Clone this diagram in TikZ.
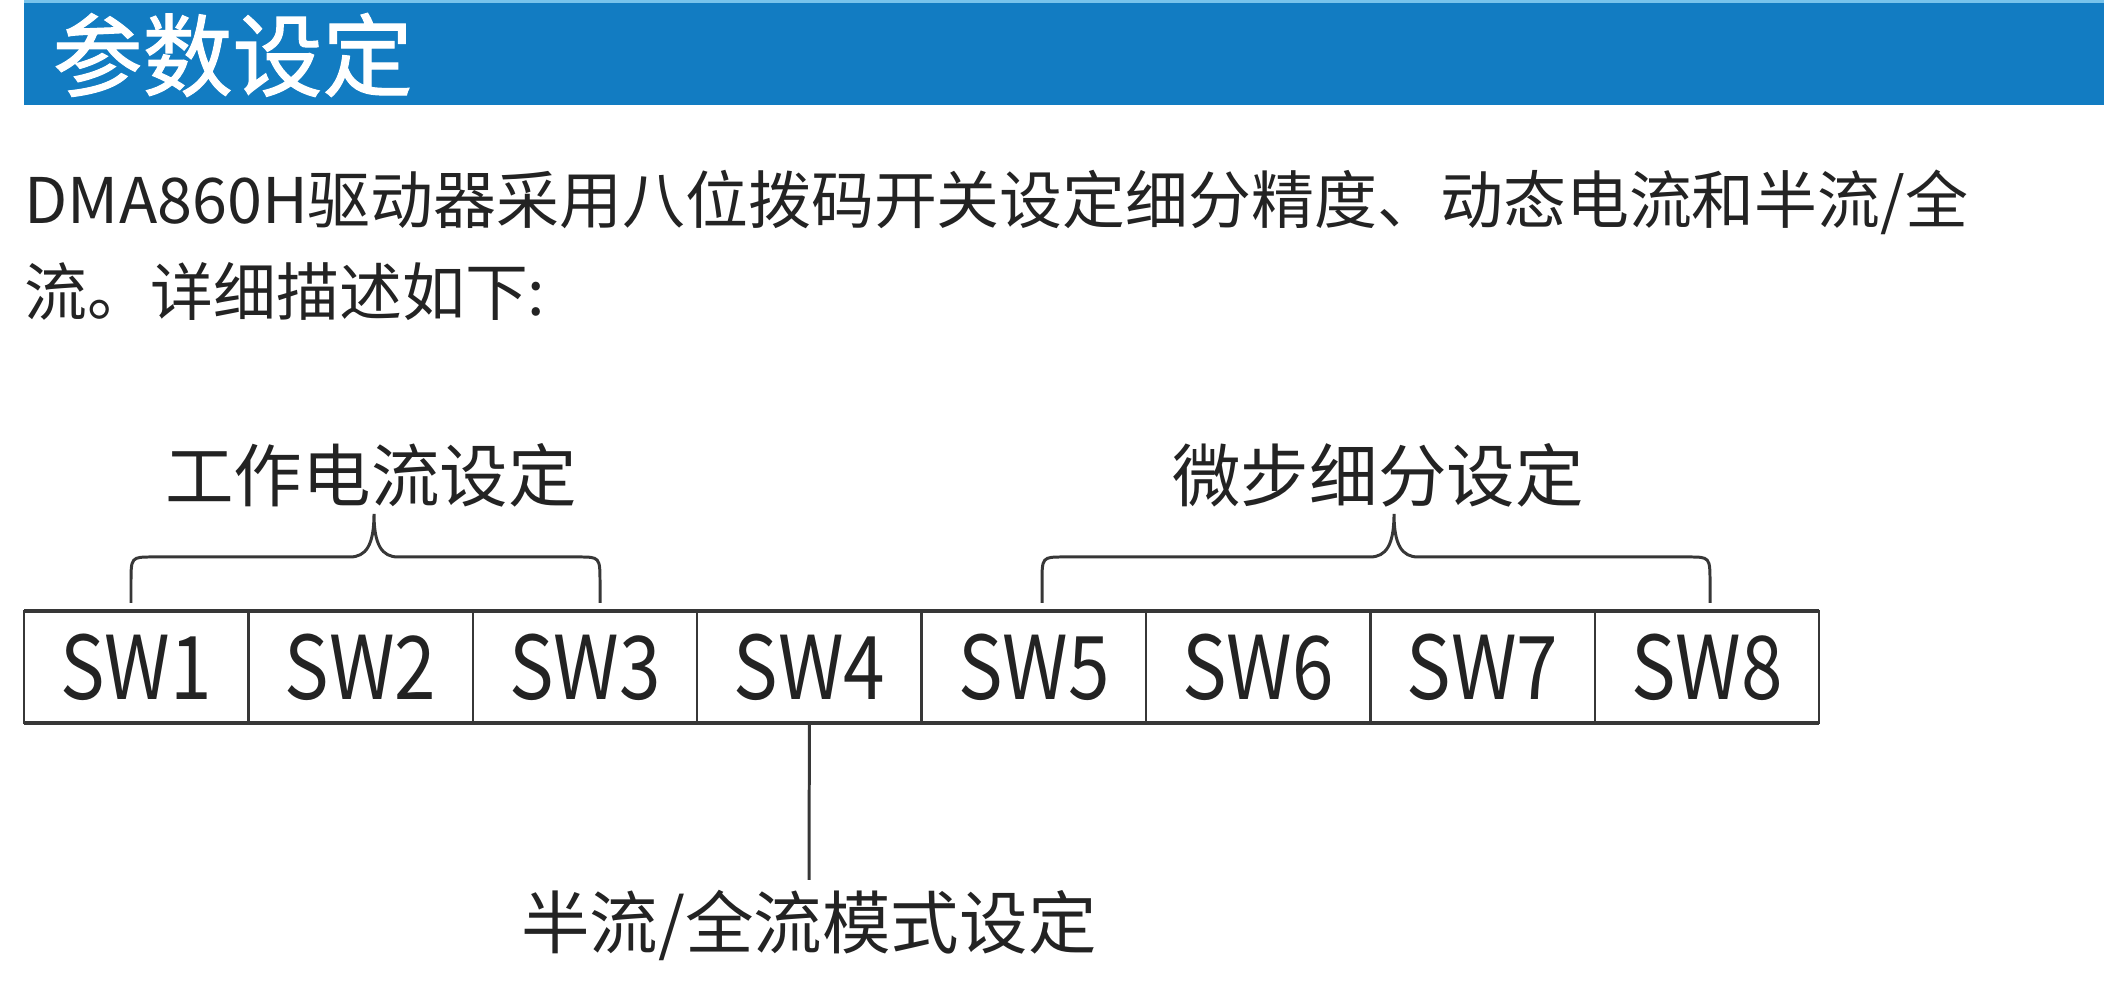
\documentclass[tikz,border=0pt]{standalone}
\usepackage{fontspec}
\setmainfont{Noto Sans CJK SC}
\newfontfamily\swfont[FakeStretch=0.85]{Noto Sans CJK SC}
\newfontfamily\titlefont[FakeBold=1.2]{Noto Sans CJK SC}
\usepackage{tikz}
\usetikzlibrary{positioning}

\definecolor{barblue}{RGB}{18,124,194}
\definecolor{barlight}{RGB}{120,195,235}
\definecolor{textgray}{RGB}{35,35,35}
\definecolor{linegray}{RGB}{55,55,55}

% curly bracket over a group of switches: left leg, right leg, tip
\newcommand{\groupbrace}[3]{%
  \draw[bracket] (#1,3.97) -- (#1,4.17) .. controls (#1,4.43) .. ({#1+0.22},4.43)
    -- ({#3-0.24},4.43) .. controls ({#3-0.08},4.43) and (#3,4.55) .. (#3,4.86)
    .. controls (#3,4.55) and ({#3+0.08},4.43) .. ({#3+0.24},4.43)
    -- ({#2-0.22},4.43) .. controls (#2,4.43) .. (#2,4.17) -- (#2,3.97);}

\begin{document}
\begin{tikzpicture}[
    swbox/.style={rectangle, minimum width=2.244cm, minimum height=1.12cm, inner sep=0pt, outer sep=0pt, draw=linegray, line width=0.7pt, text=textgray, font=\swfont\fontsize{25pt}{25pt}\selectfont},
    grouplabel/.style={inner sep=0pt, text=textgray, font=\fontsize{19.5pt}{20pt}\selectfont},
    introtext/.style={anchor=base west, inner sep=0pt, text=textgray, font=\fontsize{17.9pt}{20pt}\selectfont},
    bracket/.style={line width=0.85pt, draw=linegray},
    boxedge/.style={line width=1.4pt, draw=linegray},
    stem/.style={line width=0.85pt, draw=linegray}
]
\useasboundingbox (0,0) rectangle (21.28,10);

% Header
\fill[barblue] (0.24,8.95) rectangle (21.04,10);
\fill[barlight] (0.24,9.97) rectangle (21.04,10);
\node[anchor=west, inner sep=0pt, text=white, font=\titlefont\fontsize{25.6pt}{26pt}\selectfont] (title) at (0.52,9.45) {参数设定};

% Intro text
\node[introtext] (intro1) at (0.24,7.76) {DMA860H驱动器采用八位拨码开关设定细分精度、动态电流和半流/全};
\node[introtext] (intro2) at (0.24,6.84) {流。详细描述如下:};

% DIP switches
\foreach \i in {1,...,8}
    \node[swbox] (sw\i) at ({0.24+2.244*(\i-0.5)},3.33) {SW\i};
\draw[boxedge] (sw1.north west) -- (sw8.north east);
\draw[boxedge] (sw1.south west) -- (sw8.south east);

% Groups
\groupbrace{1.31}{6.00}{3.74}
\node[grouplabel] (curlab) at (3.71,5.25) {工作电流设定};
\groupbrace{10.42}{17.10}{13.94}
\node[grouplabel] (steplab) at (13.78,5.25) {微步细分设定};

\node[grouplabel] (modelab) at (8.09,0.75) {半流/全流模式设定};
\draw[stem] (sw4.south) -- ([yshift=0.09cm]modelab.north);

\end{tikzpicture}
\end{document}
